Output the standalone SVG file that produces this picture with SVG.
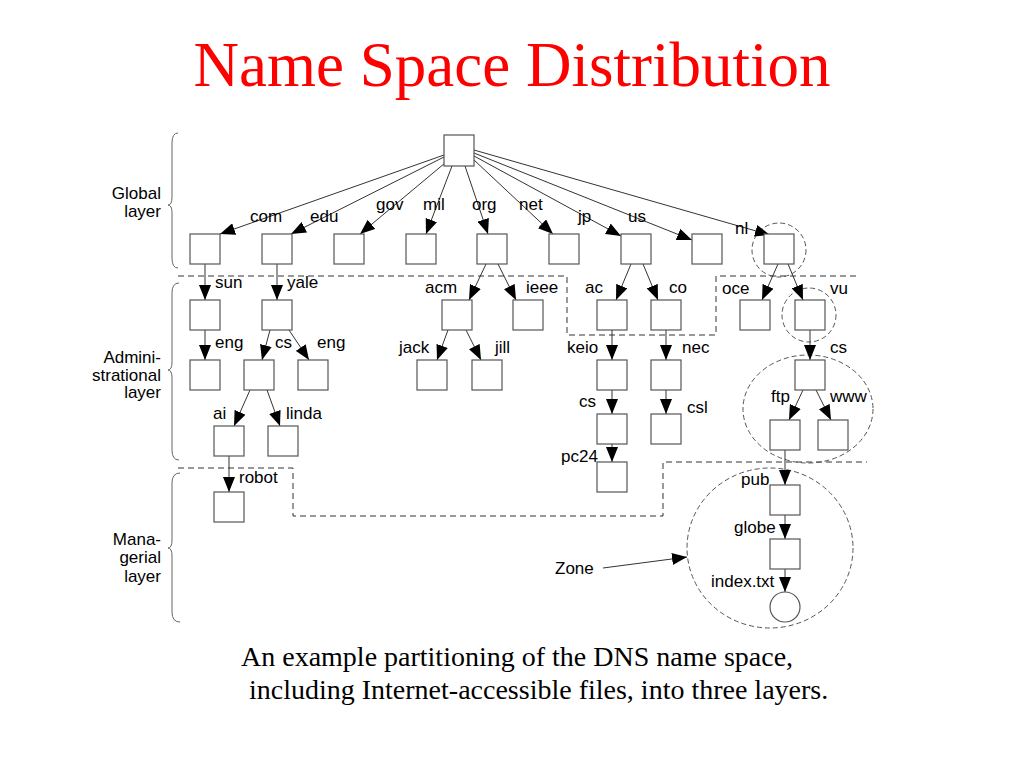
<svg xmlns="http://www.w3.org/2000/svg" width="1024" height="768" viewBox="0 0 1024 768">
<defs>
<marker id="arr" markerWidth="15" markerHeight="12" refX="15" refY="6" orient="auto" markerUnits="userSpaceOnUse">
<path d="M0,0 L15,6 L0,12 z" fill="#000"/>
</marker>
<style>
.box{fill:#fff;stroke:#555;stroke-width:1.2}
.edge{fill:none;stroke:#333;stroke-width:1;marker-end:url(#arr)}
.lbl{font-family:"Liberation Sans",Arial,sans-serif;font-size:17px;fill:#000}
.side{font-family:"Liberation Sans",Arial,sans-serif;font-size:17px;fill:#000;text-anchor:end}
.brace{fill:none;stroke:#666;stroke-width:1}
.layer{fill:none;stroke:#333;stroke-width:1;stroke-dasharray:6,4}
.zone{fill:none;stroke:#555;stroke-width:1;stroke-dasharray:5,3}
.title{font-family:"Liberation Serif","Times New Roman",serif;font-size:63px;fill:#ff0000;text-anchor:middle}
.cap{font-family:"Liberation Serif","Times New Roman",serif;font-size:28px;fill:#000}
</style>
</defs>
<rect width="1024" height="768" fill="#fff"/>
<text class="title" x="512" y="86">Name Space Distribution</text>

<g id="layers">
<path class="brace" d="M178,133 Q172,133 172,143 L172,197 Q172,205 168,205 Q172,205 172,213 L172,258 Q172,268 178,268"/>
<path class="brace" d="M179,283 Q172,283 172,293 L172,362 Q172,370 168,370 Q172,370 172,378 L172,450 Q172,460 179,460"/>
<path class="brace" d="M180,473 Q172,473 172,483 L172,540 Q172,548 168,548 Q172,548 172,556 L172,612 Q172,622 180,622"/>
<text class="side" x="161" y="199">Global</text>
<text class="side" x="161" y="217">layer</text>
<text class="side" x="161" y="363">Admini-</text>
<text class="side" x="161" y="381">strational</text>
<text class="side" x="161" y="398">layer</text>
<text class="side" x="161" y="545">Mana-</text>
<text class="side" x="161" y="563">gerial</text>
<text class="side" x="161" y="582">layer</text>
<path class="layer" d="M178,276 L567,276 L567,335 L716,335 L716,276 L856,276"/>
<path class="layer" d="M178,468 L293,468 L293,516 L663,516 L663,462 L867,462"/>
<ellipse class="zone" cx="779" cy="250" rx="27" ry="27"/>
<ellipse class="zone" cx="809" cy="315" rx="27" ry="27"/>
<ellipse class="zone" cx="808" cy="409" rx="65" ry="54"/>
<ellipse class="zone" cx="770" cy="548" rx="83" ry="80"/>
</g>

<g id="connectors">
<path class="edge" d="M444,155 L220,234"/>
<path class="edge" d="M444,157 L291,234"/>
<path class="edge" d="M445,163 L360,234"/>
<path class="edge" d="M452,166 L426,234"/>
<path class="edge" d="M465,166 L488,234"/>
<path class="edge" d="M474,160 L553,234"/>
<path class="edge" d="M474,156 L621,236"/>
<path class="edge" d="M474,153 L692,240"/>
<path class="edge" d="M474,150 L770,235"/>
<path class="edge" d="M205,264 L205,300"/>
<path class="edge" d="M277,264 L277,300"/>
<path class="edge" d="M205,330 L205,360"/>
<path class="edge" d="M270,330 L262,360"/>
<path class="edge" d="M289,330 L309,360"/>
<path class="edge" d="M250,390 L234,426"/>
<path class="edge" d="M267,390 L280,426"/>
<path class="edge" d="M229,456 L229,492"/>
<path class="edge" d="M486,264 L469,300"/>
<path class="edge" d="M498,264 L516,300"/>
<path class="edge" d="M448,330 L437,360"/>
<path class="edge" d="M466,330 L481,360"/>
<path class="edge" d="M631,264 L616,300"/>
<path class="edge" d="M643,264 L658,300"/>
<path class="edge" d="M612,330 L612,360"/>
<path class="edge" d="M666,330 L666,360"/>
<path class="edge" d="M612,390 L612,414"/>
<path class="edge" d="M666,390 L666,414"/>
<path class="edge" d="M612,444 L612,462"/>
<path class="edge" d="M778,264 L762,300"/>
<path class="edge" d="M788,264 L803,300"/>
<path class="edge" d="M810,330 L810,360"/>
<path class="edge" d="M803,390 L789,420"/>
<path class="edge" d="M816,390 L831,420"/>
<path class="edge" d="M785,450 L785,485"/>
<path class="edge" d="M785,515 L785,539"/>
<path class="edge" d="M785,569 L785,592"/>
<path class="edge" d="M603,568 L687,557"/>
<text class="lbl" x="250" y="222">com</text>
<text class="lbl" x="310" y="222">edu</text>
<text class="lbl" x="376" y="210">gov</text>
<text class="lbl" x="423" y="210">mil</text>
<text class="lbl" x="472" y="210">org</text>
<text class="lbl" x="519" y="210">net</text>
<text class="lbl" x="578" y="222">jp</text>
<text class="lbl" x="628" y="222">us</text>
<text class="lbl" x="735" y="234">nl</text>
<text class="lbl" x="215" y="288">sun</text>
<text class="lbl" x="287" y="288">yale</text>
<text class="lbl" x="215" y="348">eng</text>
<text class="lbl" x="275" y="348">cs</text>
<text class="lbl" x="317" y="348">eng</text>
<text class="lbl" x="213" y="419">ai</text>
<text class="lbl" x="286" y="419">linda</text>
<text class="lbl" x="239" y="483">robot</text>
<text class="lbl" x="425" y="293">acm</text>
<text class="lbl" x="526" y="293">ieee</text>
<text class="lbl" x="399" y="353">jack</text>
<text class="lbl" x="495" y="353">jill</text>
<text class="lbl" x="585" y="293">ac</text>
<text class="lbl" x="669" y="293">co</text>
<text class="lbl" x="567" y="353">keio</text>
<text class="lbl" x="682" y="353">nec</text>
<text class="lbl" x="579" y="407">cs</text>
<text class="lbl" x="687" y="413">csl</text>
<text class="lbl" x="561" y="462">pc24</text>
<text class="lbl" x="722" y="294">oce</text>
<text class="lbl" x="830" y="294">vu</text>
<text class="lbl" x="830" y="353">cs</text>
<text class="lbl" x="771" y="402">ftp</text>
<text class="lbl" x="830" y="402">www</text>
<text class="lbl" x="741" y="485">pub</text>
<text class="lbl" x="734" y="533">globe</text>
<text class="lbl" x="711" y="587">index.txt</text>
<text class="lbl" x="555" y="574">Zone</text>
</g>

<g id="n-root"><rect class="box" x="444" y="135" width="30" height="31"/></g>
<g id="n-com"><rect class="box" x="190" y="234" width="30" height="30"/></g>
<g id="n-edu"><rect class="box" x="262" y="234" width="30" height="30"/></g>
<g id="n-gov"><rect class="box" x="334" y="234" width="30" height="30"/></g>
<g id="n-mil"><rect class="box" x="406" y="234" width="30" height="30"/></g>
<g id="n-org"><rect class="box" x="477" y="234" width="30" height="30"/></g>
<g id="n-net"><rect class="box" x="549" y="234" width="30" height="30"/></g>
<g id="n-jp"><rect class="box" x="621" y="234" width="30" height="30"/></g>
<g id="n-us"><rect class="box" x="692" y="234" width="30" height="30"/></g>
<g id="n-nl"><rect class="box" x="764" y="234" width="30" height="30"/></g>
<g id="n-sun"><rect class="box" x="190" y="300" width="30" height="30"/></g>
<g id="n-yale"><rect class="box" x="262" y="300" width="30" height="30"/></g>
<g id="n-sun-eng"><rect class="box" x="190" y="360" width="30" height="30"/></g>
<g id="n-yale-cs"><rect class="box" x="244" y="360" width="30" height="30"/></g>
<g id="n-yale-eng"><rect class="box" x="298" y="360" width="30" height="30"/></g>
<g id="n-ai"><rect class="box" x="214" y="426" width="30" height="30"/></g>
<g id="n-linda"><rect class="box" x="268" y="426" width="30" height="30"/></g>
<g id="n-robot"><rect class="box" x="214" y="492" width="30" height="30"/></g>
<g id="n-acm"><rect class="box" x="442" y="300" width="30" height="30"/></g>
<g id="n-ieee"><rect class="box" x="513" y="300" width="30" height="30"/></g>
<g id="n-jack"><rect class="box" x="417" y="360" width="30" height="30"/></g>
<g id="n-jill"><rect class="box" x="472" y="360" width="30" height="30"/></g>
<g id="n-ac"><rect class="box" x="597" y="300" width="30" height="30"/></g>
<g id="n-co"><rect class="box" x="651" y="300" width="30" height="30"/></g>
<g id="n-keio"><rect class="box" x="597" y="360" width="30" height="30"/></g>
<g id="n-nec"><rect class="box" x="651" y="360" width="30" height="30"/></g>
<g id="n-keio-cs"><rect class="box" x="597" y="414" width="30" height="30"/></g>
<g id="n-csl"><rect class="box" x="651" y="414" width="30" height="30"/></g>
<g id="n-pc24"><rect class="box" x="597" y="462" width="30" height="30"/></g>
<g id="n-oce"><rect class="box" x="740" y="300" width="30" height="30"/></g>
<g id="n-vu"><rect class="box" x="795" y="300" width="30" height="30"/></g>
<g id="n-vu-cs"><rect class="box" x="795" y="360" width="30" height="30"/></g>
<g id="n-ftp"><rect class="box" x="770" y="420" width="30" height="30"/></g>
<g id="n-www"><rect class="box" x="818" y="420" width="30" height="30"/></g>
<g id="n-pub"><rect class="box" x="770" y="485" width="30" height="30"/></g>
<g id="n-globe"><rect class="box" x="770" y="539" width="30" height="30"/></g>
<g id="n-index"><circle class="box" cx="785" cy="607" r="15"/></g>

<text class="cap" x="241" y="666">An example partitioning of the DNS name space,</text>
<text class="cap" x="249" y="699">including Internet-accessible files, into three layers.</text>
</svg>
